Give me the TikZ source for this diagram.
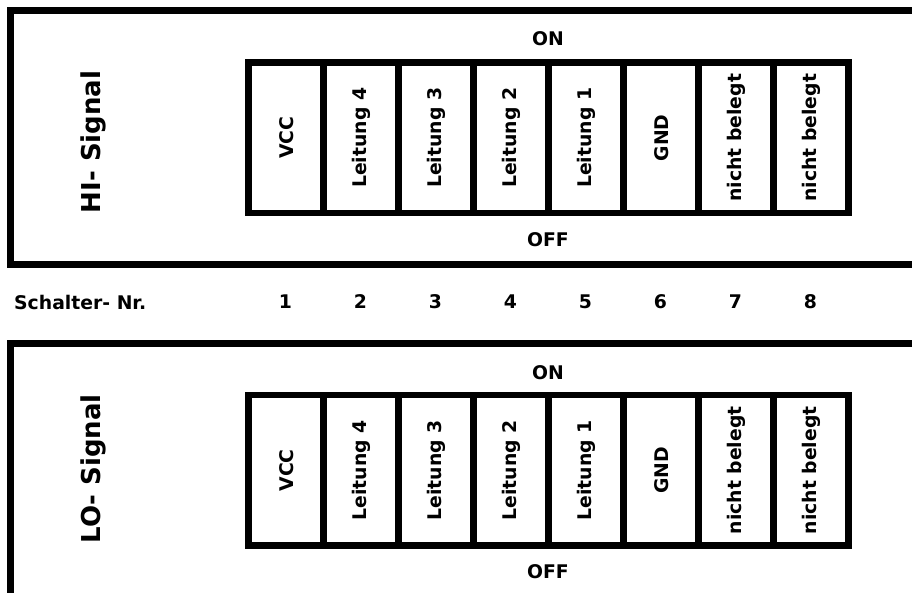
\documentclass[tikz,border=0pt]{standalone}
\usepackage{fontspec}
\setmainfont{DejaVu Sans}
\begin{document}
\begin{tikzpicture}[x=1pt,y=1pt,
  frame/.style={line width=7pt, line join=miter},
  cell/.style={draw, line width=6.5pt, minimum width=150.3pt, minimum height=75pt,
    rotate=90, inner sep=0pt, font=\fontsize{18.8}{22}\selectfont\bfseries},
  lbl/.style={font=\fontsize{18.8}{22}\selectfont\bfseries, inner sep=0pt},
  sig/.style={font=\fontsize{26}{30}\selectfont\bfseries, rotate=90, inner sep=0pt}]
\useasboundingbox (0,0) rectangle (912,593);
% outer frames
\draw[frame] (912,582.5) -- (10.5,582.5) -- (10.5,328) -- (912,328);
\draw[frame] (912,249.5) -- (10.5,249.5) -- (10.5,0);
% top switch block
\foreach \t [count=\i] in {VCC,Leitung 4,Leitung 3,Leitung 2,Leitung 1,GND,nicht belegt,nicht belegt}{
  \node[cell] (c\i) at ({286.2+75*(\i-1)},455.15) {\t};
  \node[cell] (d\i) at ({286.2+75*(\i-1)},122.6) {\t};
  \node[lbl] (n\i) at ({285.5+75*(\i-1)},291) {\i};
}
\node[lbl] (on1) at (548,554) {ON};
\node[lbl] (off1) at (548,353.5) {OFF};
\node[lbl] (on2) at (548,220.6) {ON};
\node[lbl] (off2) at (548,21.5) {OFF};
\node[lbl, anchor=west] (sn) at (14,291) {Schalter- Nr.};
\node[sig] (hi) at (93,451) {HI- Signal};
\node[sig] (lo) at (93,124) {LO- Signal};
\end{tikzpicture}
\end{document}
